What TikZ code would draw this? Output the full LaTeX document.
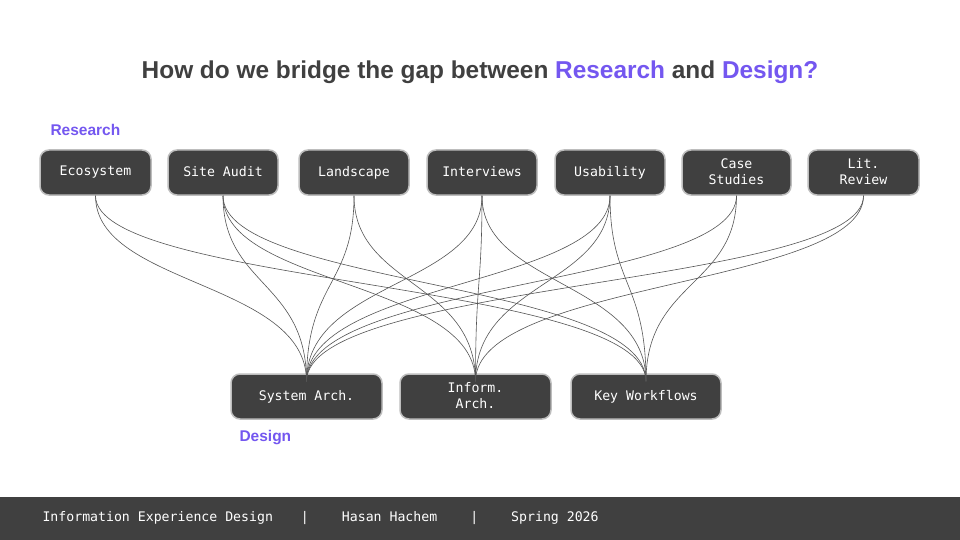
\documentclass[tikz,border=0pt]{standalone}
\usepackage{fontspec}
\setmainfont{Liberation Sans}
\setmonofont{DejaVu Sans Mono}
\definecolor{purp}{HTML}{7457F0}
\definecolor{dk}{HTML}{404040}
\definecolor{bd}{HTML}{BDBDBD}
\definecolor{ln}{HTML}{555555}
\begin{document}
\begin{tikzpicture}[x=1pt,y=-1pt,
 box/.style={draw=bd,line width=1.5pt,fill=dk,rounded corners=9pt,text=white,font=\ttfamily\fontsize{13.2}{16}\selectfont,align=center,minimum height=45pt,inner sep=2pt,execute at begin node=\vphantom{Ay},execute at end node=\vphantom{Ay}},
 link/.style={draw=ln,line width=0.6pt}]
\useasboundingbox (0,0) rectangle (960,540);
\fill[white] (0,0) rectangle (960,540);
\node[font=\bfseries\fontsize{24.4}{28}\selectfont,text=dk] (title) at (480,72) {How do we bridge the gap between \textcolor{purp}{Research} and \textcolor{purp}{Design?}};
\node[font=\bfseries\fontsize{15.5}{18}\selectfont,text=purp,anchor=west] (rl) at (47,130) {Research};
\node[font=\bfseries\fontsize{15.5}{18}\selectfont,text=purp,anchor=west] (dl) at (236,438) {Design};
\foreach \n/\x/\w/\t in {eco/95.5/111/Ecosystem,site/223/110/Site Audit,land/354/110/Landscape,int/482/110/Interviews,usa/610/110/Usability,case/736.5/109/Case\\Studies,lit/863.5/111/Lit.\\Review}
  \node[box,minimum width=\w pt] (\n) at (\x,172.5) {\t};
\foreach \n/\x/\w/\t in {sa/306.5/151/System Arch.,ia/475.5/151/Inform.\\Arch.,kw/646/150/Key Workflows}
  \node[box,minimum width=\w pt] (\n) at (\x,396.5) {\t};
\foreach \s/\t in {eco/sa,eco/kw,site/sa,site/ia,site/kw,land/sa,land/ia,int/sa,int/ia,int/kw,usa/sa,usa/ia,usa/kw,case/sa,case/kw,lit/sa,lit/ia}
  \draw[link] (\s.south) .. controls +(0,90) and +(0,-100) .. ([yshift=-8pt]\t.north);
\fill[dk] (0,497) rectangle (960,540);
\node[anchor=west,text=white,font=\ttfamily\fontsize{13.2}{15}\selectfont] (foot) at (39,518) {Information Experience Design\hspace{28pt}|\hspace{33pt}Hasan Hachem\hspace{33pt}|\hspace{33pt}Spring 2026};
\end{tikzpicture}
\end{document}
